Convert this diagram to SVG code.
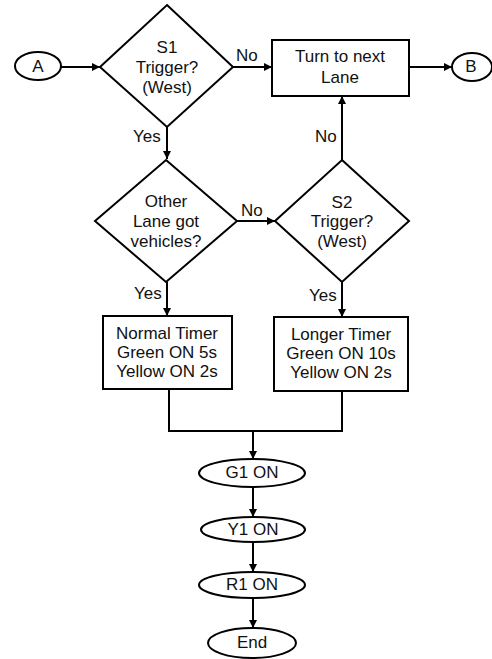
<svg xmlns="http://www.w3.org/2000/svg" width="492" height="659" viewBox="0 0 492 659">
<defs>
<marker id="arr" viewBox="0 0 10 10" refX="10" refY="5" markerWidth="8" markerHeight="8" markerUnits="userSpaceOnUse" orient="auto">
<path d="M0,0 L10,5 L0,10 Z" fill="#000"/>
</marker>
<style>
.s{fill:#fff;stroke:#000;stroke-width:2}
.c{fill:none;stroke:#000;stroke-width:2}
.t{font-family:"Liberation Sans",Arial,sans-serif;font-size:17px;fill:#111;text-anchor:middle;dominant-baseline:central}
.l{font-family:"Liberation Sans",Arial,sans-serif;font-size:17px;fill:#111;dominant-baseline:central}
</style>
</defs>
<rect width="492" height="659" fill="#fff"/>
<g id="connectors">
<path class="c" d="M61,67 H100" marker-end="url(#arr)"/>
<path class="c" d="M233,67 H272" marker-end="url(#arr)"/>
<path class="c" d="M409,67 H452" marker-end="url(#arr)"/>
<path class="c" d="M167,127 V159" marker-end="url(#arr)"/>
<path class="c" d="M237,221 H275" marker-end="url(#arr)"/>
<path class="c" d="M342,160 V96" marker-end="url(#arr)"/>
<path class="c" d="M167,282 V316" marker-end="url(#arr)"/>
<path class="c" d="M342,282 V317" marker-end="url(#arr)"/>
<path class="c" d="M169,389 V431 H342 V391"/>
<path class="c" d="M253,431 V459" marker-end="url(#arr)"/>
<path class="c" d="M253,487 V517" marker-end="url(#arr)"/>
<path class="c" d="M253,542 V572" marker-end="url(#arr)"/>
<path class="c" d="M253,598 V628" marker-end="url(#arr)"/>
<text class="l" x="236" y="55">No</text>
<text class="l" x="133" y="136">Yes</text>
<text class="l" x="315" y="136">No</text>
<text class="l" x="241" y="210">No</text>
<text class="l" x="134" y="293">Yes</text>
<text class="l" x="309" y="295">Yes</text>
</g>
<g id="A">
<ellipse class="s" cx="38" cy="66" rx="23" ry="14"/>
<text class="t" x="38" y="66">A</text>
</g>
<g id="S1">
<polygon class="s" points="167,5 233,67 167,127 100,67"/>
<text class="t" x="167" y="47">S1</text>
<text class="t" x="167" y="67">Trigger?</text>
<text class="t" x="167" y="87">(West)</text>
</g>
<g id="Turn">
<rect class="s" x="272" y="40" width="137" height="56"/>
<text class="t" x="340" y="56">Turn to next</text>
<text class="t" x="340" y="77">Lane</text>
</g>
<g id="B">
<ellipse class="s" cx="472" cy="67" rx="20" ry="14"/>
<text class="t" x="471" y="66">B</text>
</g>
<g id="Other">
<polygon class="s" points="166,160 237,221 166,282 95,221"/>
<text class="t" x="166" y="201">Other</text>
<text class="t" x="166" y="221">Lane got</text>
<text class="t" x="166" y="241">vehicles?</text>
</g>
<g id="S2">
<polygon class="s" points="342,160 409,221 342,282 275,221"/>
<text class="t" x="342" y="202">S2</text>
<text class="t" x="342" y="221">Trigger?</text>
<text class="t" x="342" y="241">(West)</text>
</g>
<g id="Normal">
<rect class="s" x="103" y="316" width="129" height="73"/>
<text class="t" x="167" y="333">Normal Timer</text>
<text class="t" x="167" y="352">Green ON 5s</text>
<text class="t" x="167" y="371">Yellow ON 2s</text>
</g>
<g id="Longer">
<rect class="s" x="274" y="317" width="134" height="74"/>
<text class="t" x="341" y="334">Longer Timer</text>
<text class="t" x="341" y="353">Green ON 10s</text>
<text class="t" x="341" y="372">Yellow ON 2s</text>
</g>
<g id="G1">
<ellipse class="s" cx="252" cy="473" rx="53" ry="14"/>
<text class="t" x="252" y="472">G1 ON</text>
</g>
<g id="Y1">
<ellipse class="s" cx="253" cy="529.5" rx="52" ry="12.5"/>
<text class="t" x="253" y="529">Y1 ON</text>
</g>
<g id="R1">
<ellipse class="s" cx="252" cy="585" rx="53" ry="13"/>
<text class="t" x="252" y="584">R1 ON</text>
</g>
<g id="End">
<ellipse class="s" cx="252" cy="643" rx="44" ry="15"/>
<text class="t" x="252" y="642">End</text>
</g>
</svg>
